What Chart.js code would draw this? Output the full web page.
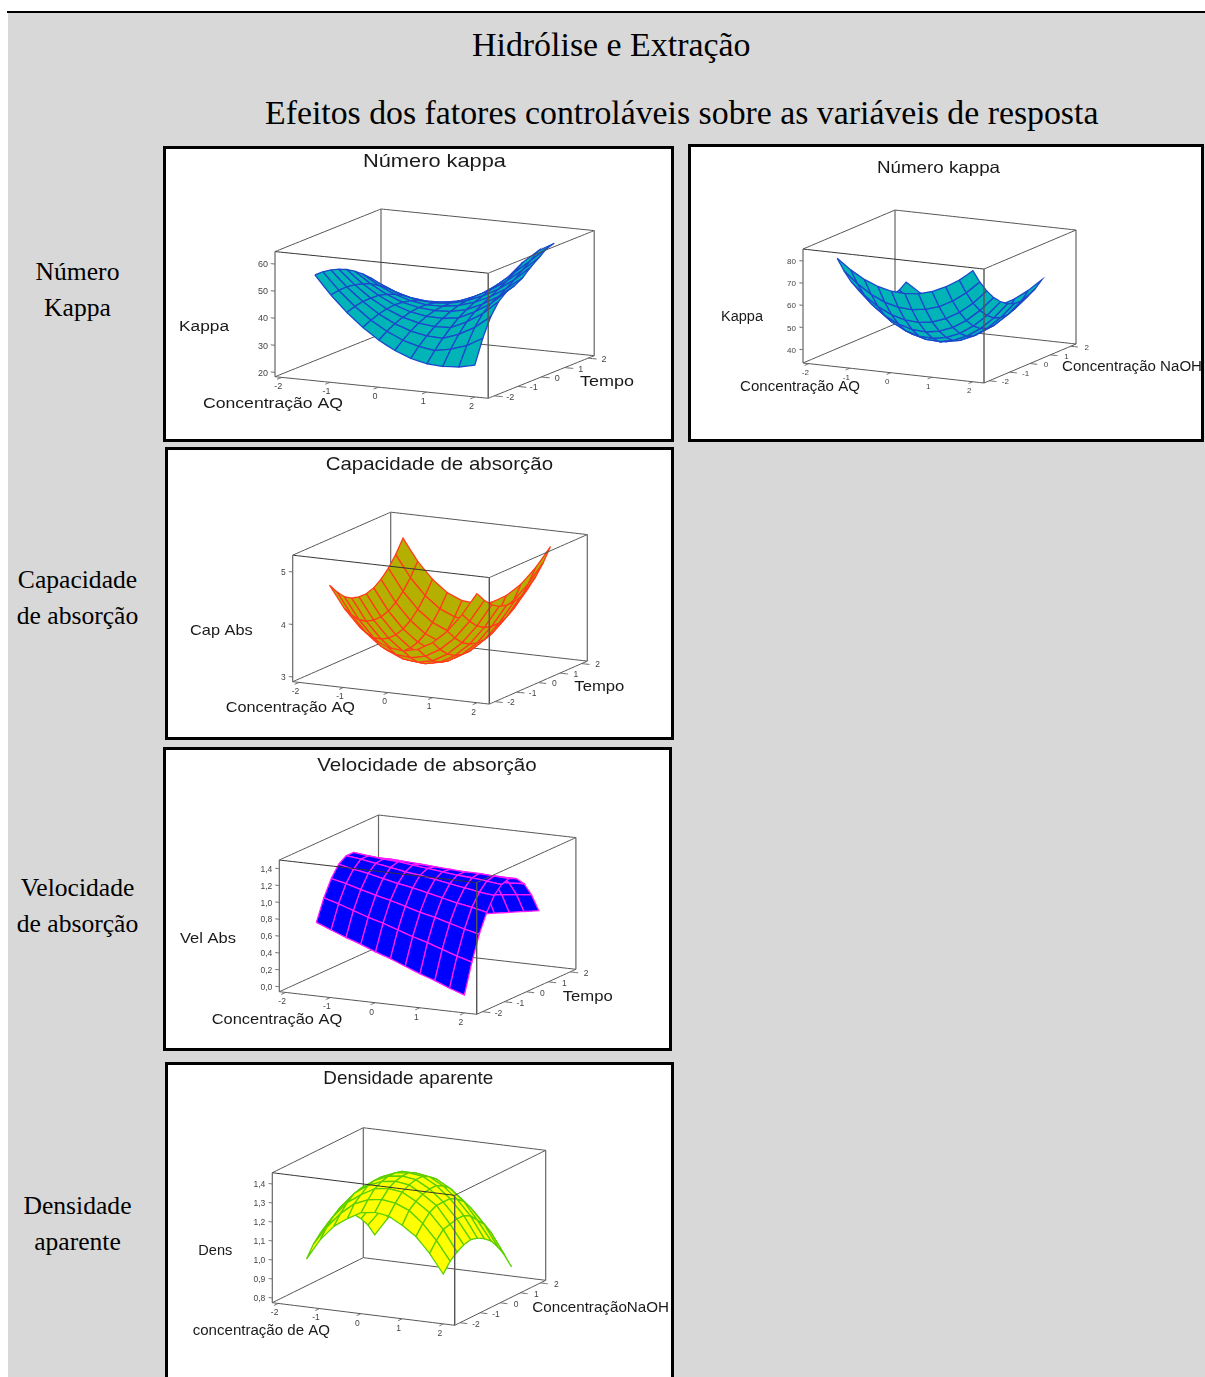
<!DOCTYPE html>
<html lang="pt"><head><meta charset="utf-8">
<script src="https://cdn.jsdelivr.net/npm/chart.js@4"></script>
<style>
html,body{margin:0;padding:0;background:#fff;width:1205px;height:1377px;overflow:hidden}
#sheet{position:absolute;left:8px;top:12px;width:1197px;height:1365px;background:#d8d8d8}
#rule{position:absolute;left:7px;top:11px;width:1198px;height:2px;background:#000}
.h{position:absolute;font-family:"Liberation Serif",serif;color:#000;white-space:nowrap}
.row{position:absolute;left:0;width:155px;text-align:center;font:25.6px/36px "Liberation Serif",serif;color:#000}
.panel{position:absolute;box-sizing:border-box;border:3px solid #000;background:#fff}
.panel canvas{display:block;filter:blur(0.35px)}
</style></head><body>
<div id="sheet"></div><div id="rule"></div>
<div class="h" style="left:472px;top:25px;font-size:33.9px;line-height:40px">Hidrólise e Extração</div>
<div class="h" style="left:265px;top:93px;font-size:33.8px;line-height:40px">Efeitos dos fatores controláveis sobre as variáveis de resposta</div>
<div class="row" style="top:254px">Número<br>Kappa</div>
<div class="row" style="top:562px">Capacidade<br>de absorção</div>
<div class="row" style="top:870px">Velocidade<br>de absorção</div>
<div class="row" style="top:1188px">Densidade<br>aparente</div>
<div id="panels"></div>
<script>
// Surface grid (axis-box units): 11 lines each way.
const gridX = [-1.5,-1.2,-0.9,-0.6,-0.3,0,0.3,0.6,0.9,1.2,1.5];
const gridY = [-1.5,-1.2,-0.9,-0.6,-0.3,0,0.3,0.6,0.9,1.2,1.5];
const axisTicks = [-2,-1,0,1,2];
const kappaTicks1 = [20,30,40,50,60];
const kappaTicks2 = [40,50,60,70,80];
const capTicks = [3,4,5];
const velTicks = [0,0.2,0.4,0.6,0.8,1.0,1.2,1.4];
const densTicks = [0.8,0.9,1.0,1.1,1.2,1.3,1.4];

// Rows run along gridY, columns along gridX.
const kappaVsTempo = [
[55.0,48.2,42.3,37.4,33.3,30.1,27.8,26.4,26.0,26.4,27.7],
[55.0,48.7,43.4,38.9,35.4,32.7,31.0,30.1,31.2,33.1,36.4],
[54.5,48.8,44.0,40.0,37.0,34.9,33.7,33.4,35.5,38.6,43.2],
[53.6,48.4,44.1,40.7,38.2,36.7,36.0,36.2,38.9,42.5,47.6],
[52.3,47.6,43.9,41.0,39.0,38.0,37.8,38.6,41.4,45.0,50.1],
[50.5,46.4,43.1,40.8,39.4,38.9,39.2,40.5,43.1,46.5,51.1],
[48.3,44.7,42.0,40.2,39.3,39.3,40.2,42.0,44.7,48.3,52.8],
[45.7,42.6,40.4,39.2,38.8,39.3,40.8,43.1,46.3,50.4,55.5],
[42.6,40.1,38.4,37.7,37.9,38.9,41.2,44.2,48.0,52.7,57.7],
[39.1,37.1,36.0,35.8,36.5,38.1,41.2,45.2,50.0,55.0,60.0],
[35.2,33.7,33.1,33.5,35.0,37.5,41.0,46.0,52.5,57.5,60.9]];
const kappaVsNaOH = [
[80.2,75.6,72.0,69.5,68.0,67.6,68.2,69.9,72.7,76.4,81.3],
[73.2,68.0,64.0,61.1,59.5,59.1,59.9,61.8,65.0,69.4,74.9],
[67.1,61.5,57.1,54.1,52.4,52.0,52.9,55.1,58.6,63.4,69.6],
[62.2,56.3,51.7,48.6,46.8,46.4,47.4,49.8,53.6,58.8,65.3],
[58.2,52.2,47.5,44.3,42.5,42.2,43.3,45.8,49.8,55.2,62.1],
[55.3,49.2,44.6,41.4,39.7,39.4,40.6,43.2,47.3,52.8,59.8],
[53.4,47.5,43.0,39.9,38.3,38.1,39.3,42.0,46.1,51.7,58.6],
[52.5,46.9,42.6,39.7,38.2,38.1,39.4,42.1,46.1,51.6,58.4],
[52.8,47.5,43.6,41.0,39.7,39.7,41.0,43.6,47.5,52.8,59.3],
[53.9,49.3,45.8,43.5,42.5,42.6,43.9,46.4,50.2,55.0,61.2],
[56.2,52.2,49.4,47.5,46.7,47.0,48.3,50.7,54.1,58.6,64.1]];
const capAbs = [
[4.70,4.29,3.98,3.76,3.64,3.61,3.67,3.83,4.08,4.43,4.86],
[4.51,4.10,3.79,3.57,3.45,3.42,3.48,3.64,3.89,4.24,4.67],
[4.36,3.95,3.64,3.42,3.30,3.27,3.33,3.49,3.74,4.09,4.52],
[4.27,3.86,3.55,3.33,3.21,3.18,3.24,3.40,3.65,4.00,4.43],
[4.23,3.82,3.51,3.29,3.17,3.14,3.20,3.36,3.61,3.96,4.39],
[4.23,3.82,3.51,3.29,3.17,3.14,3.20,3.36,3.61,3.96,4.39],
[4.28,3.87,3.56,3.34,3.22,3.19,3.25,3.41,3.66,4.01,4.44],
[4.38,3.97,3.66,3.44,3.32,3.29,3.35,3.51,3.76,4.11,4.54],
[4.53,4.12,3.81,3.59,3.47,3.44,3.50,3.66,3.91,4.26,4.69],
[4.73,4.32,4.01,3.79,3.67,3.64,3.70,3.86,4.11,4.46,4.89],
[4.98,4.57,4.26,4.04,3.92,3.89,3.95,4.11,4.36,4.71,5.14]];
const velAbs = [
[0.73,0.66,0.59,0.53,0.46,0.40,0.33,0.26,0.20,0.13,0.07],
[0.98,0.93,0.87,0.81,0.76,0.70,0.64,0.59,0.53,0.47,0.42],
[1.17,1.13,1.08,1.03,0.99,0.94,0.89,0.85,0.80,0.75,0.71],
[1.30,1.26,1.23,1.19,1.15,1.12,1.08,1.04,1.00,0.97,0.93],
[1.36,1.34,1.31,1.28,1.25,1.23,1.20,1.17,1.14,1.11,1.09],
[1.36,1.34,1.32,1.31,1.29,1.27,1.25,1.23,1.22,1.20,1.18],
[1.29,1.28,1.28,1.27,1.26,1.25,1.24,1.23,1.23,1.22,1.21],
[1.16,1.16,1.16,1.16,1.17,1.17,1.17,1.17,1.17,1.17,1.17],
[0.96,0.97,0.98,1.00,1.01,1.02,1.03,1.04,1.05,1.06,1.07],
[0.70,0.72,0.74,0.76,0.78,0.80,0.82,0.84,0.86,0.88,0.90],
[0.37,0.40,0.43,0.46,0.49,0.52,0.55,0.58,0.61,0.64,0.67]];
const densAparente = [
[0.99,1.10,1.18,1.23,1.27,1.28,1.27,1.23,1.18,1.10,1.00],
[1.05,1.15,1.23,1.29,1.32,1.33,1.32,1.29,1.23,1.15,1.05],
[1.09,1.19,1.27,1.32,1.36,1.37,1.36,1.32,1.27,1.19,1.08],
[1.12,1.22,1.30,1.35,1.38,1.39,1.38,1.34,1.29,1.20,1.10],
[1.14,1.23,1.31,1.36,1.39,1.40,1.39,1.35,1.29,1.21,1.11],
[1.14,1.24,1.31,1.36,1.39,1.40,1.39,1.35,1.29,1.21,1.10],
[1.13,1.22,1.30,1.35,1.38,1.38,1.37,1.33,1.27,1.19,1.08],
[1.10,1.20,1.27,1.32,1.35,1.35,1.34,1.30,1.24,1.15,1.05],
[1.06,1.16,1.23,1.28,1.31,1.31,1.29,1.25,1.19,1.11,1.00],
[1.01,1.10,1.18,1.22,1.25,1.25,1.24,1.19,1.13,1.05,0.94],
[0.94,1.04,1.11,1.16,1.18,1.18,1.17,1.12,1.06,0.97,0.86]];

// Panel frames, view geometry, styling and texts.
const panels = [
 {rect:[163,146,511,296], o:[275,376.7], ex:[53.3,5.4], ey:[26.5,-10.65], k:2.708, zb:18.4, zt:64.6,
  z:kappaVsTempo, zTicks:kappaTicks1, dec:0, fill:'#00b4b8', line:'#1c48cc', tickSize:9,
  texts:[['Número kappa',363,506,160,18.5],['Kappa',179,229,325,15.5],['Concentração AQ',203,343,402,15.5],['Tempo',580,634,380,15.5]]},
 {rect:[688,144,516,298], o:[803,363], ex:[45.25,5], ey:[23,-9.75], k:2.217, zb:34, zt:85.4,
  z:kappaVsNaOH, zTicks:kappaTicks2, dec:0, fill:'#00b4b8', line:'#1c48cc', tickSize:8,
  texts:[['Número kappa',877,1000,167,16.5],['Kappa',721,763,316,14],['Concentração AQ',740,860,386,14],['Concentração NaOH',1062,1202,366,14]]},
 {rect:[165,447,509,293], o:[292.7,681.7], ex:[49.15,5.6], ey:[24.5,-10.75], k:52.5, zb:2.91, zt:5.32,
  z:capAbs, zTicks:capTicks, dec:0, fill:'#b5b000', line:'#ff3d1a', tickSize:8.5,
  texts:[['Capacidade de absorção',325.7,553,463,18.5],['Cap Abs',190,252.7,629,15],['Concentração AQ',225.7,355,706.7,15],['Tempo',574.3,624.3,685,15]]},
 {rect:[163,747,509,304], o:[279.3,991.7], ex:[49.35,5.65], ey:[24.8,-11.25], k:84.3, zb:-0.059, zt:1.503,
  z:velAbs, zTicks:velTicks, dec:1, fill:'#0000ff', line:'#ff1aff', tickSize:8.5,
  texts:[['Velocidade de absorção',317.3,536.7,764,18.5],['Vel Abs',180,236,937.7,15],['Concentração AQ',211.7,342.3,1018.3,15],['Tempo',562.7,612.7,995,15]]},
 {rect:[165,1062,509,340], o:[272.3,1302.7], ex:[45.6,5.65], ey:[22.75,-11.25], k:190, zb:0.775, zt:1.459,
  z:densAparente, zTicks:densTicks, dec:1, fill:'#ffff00', line:'#5ccf00', tickSize:8.5,
  texts:[['Densidade aparente',323.3,493.3,1077.7,18.5],['Dens',198.3,232.3,1249.7,15],['concentração de AQ',192.7,330,1329.3,15],['ConcentraçãoNaOH',532.3,669,1306.3,15]]}
];

const X_TICK = t => t*0.906-0.06, Y_TICK = t => t*0.885;
const host = document.getElementById('panels');
const TEXT_DY = 1.5;

panels.forEach(p => {
  const [L,T,W,H] = p.rect, B = 3;
  const div = document.createElement('div');
  div.className = 'panel';
  div.style.cssText = `left:${L}px;top:${T}px;width:${W}px;height:${H}px`;
  const cv = document.createElement('canvas');
  cv.width = W-2*B; cv.height = H-2*B;
  div.appendChild(cv); host.appendChild(div);

  const left = L+B, top = T+B;
  const proj = (x,y,z) => ({
    x: p.o[0]+(x+2)*p.ex[0]+(y+2)*p.ey[0],
    y: p.o[1]+(x+2)*p.ex[1]+(y+2)*p.ey[1]-(z-p.zb)*p.k
  });
  // A minute tension keeps Chart.js off its x-merging fast path, which distorts tiny closed quads.
  const lineDs = (pts,color,width) => ({data:pts,showLine:true,fill:false,pointRadius:0,tension:0.0001,borderColor:color,borderWidth:width});
  const edge = (a,b,color='#555',w=1) => lineDs([proj(...a),proj(...b)],color,w);
  const zb=p.zb, zt=p.zt;
  const ds = [];
  ds.push(edge([-2,2,zb],[-2,2,zt],'#666',1.2), edge([-2,-2,zb],[-2,2,zb]), edge([-2,2,zb],[2,2,zb]));
  for (let j=gridY.length-2;j>=0;j--) for (let i=0;i<gridX.length-1;i++) {
    const c = [[i,j],[i+1,j],[i+1,j+1],[i,j+1],[i,j]];
    ds.push({data:c.map(([a,b])=>proj(gridX[a],gridY[b],p.z[b][a])),showLine:true,fill:'shape',
      backgroundColor:p.fill,borderColor:p.line,borderWidth:1.3,pointRadius:0,tension:0.0001});
  }
  ds.push(edge([-2,-2,zt],[-2,2,zt]), edge([-2,2,zt],[2,2,zt]), edge([-2,-2,zt],[2,-2,zt],'#333'), edge([2,-2,zt],[2,2,zt]),
          edge([-2,-2,zb],[-2,-2,zt],'#666',1.2), edge([2,-2,zb],[2,-2,zt],'#555',1.4), edge([2,2,zb],[2,2,zt],'#666',1.2),
          edge([-2,-2,zb],[2,-2,zb]), edge([2,-2,zb],[2,2,zb]));
  axisTicks.forEach(t => {
    ds.push(edge([X_TICK(t),-2,zb],[X_TICK(t),-2.18,zb],'#666',1));
    ds.push(edge([2,Y_TICK(t),zb],[2.16,Y_TICK(t),zb],'#666',1));
  });
  p.zTicks.forEach(t => ds.push(edge([-2,-2,t],[-2.08,-2,t],'#666',1)));
  ds.forEach((d,i)=>{d.order=-i;});

  const textPlugin = {id:'panelText',afterDraw(chart){
    const {ctx,scales:{x:sx,y:sy}} = chart;
    const put=(txt,px,py,size,color,align)=>{
      ctx.save();ctx.font=`${size}px "Liberation Sans",Arial,sans-serif`;ctx.fillStyle=color;
      ctx.textBaseline='middle';ctx.textAlign=align;
      ctx.fillText(txt,sx.getPixelForValue(px),sy.getPixelForValue(py));ctx.restore();
    };
    axisTicks.forEach(t=>{
      const a=proj(X_TICK(t),-2,zb); put(String(t),a.x-3.5,a.y+9.5,p.tickSize,'#444','center');
      const b=proj(2,Y_TICK(t),zb); put(String(t),b.x+16,b.y+1.5,p.tickSize,'#444','center');
    });
    p.zTicks.forEach(t=>{
      const a=proj(-2,-2,t); put(t.toFixed(p.dec).replace('.',','),a.x-7,a.y+0.8,p.tickSize,'#444','right');
    });
    p.texts.forEach(([s,x0,x1,y,size])=>{
      ctx.save();ctx.font=`${size}px "Liberation Sans",Arial,sans-serif`;ctx.fillStyle='#1a1a1a';
      ctx.textBaseline='middle';ctx.textAlign='left';
      const sc=(x1-x0)/ctx.measureText(s).width;
      ctx.translate(sx.getPixelForValue(x0),sy.getPixelForValue(y+TEXT_DY));ctx.scale(sc,1);
      ctx.fillText(s,0,0);ctx.restore();
    });
  }};

  new Chart(cv,{type:'scatter',data:{datasets:ds},plugins:[textPlugin],options:{
    responsive:false,animation:false,events:[],
    layout:{padding:0},
    plugins:{legend:{display:false},tooltip:{enabled:false},title:{display:false}},
    scales:{
      x:{type:'linear',display:false,min:left,max:left+W-2*B},
      y:{type:'linear',display:false,reverse:true,min:top,max:top+H-2*B}
    }}});
});
</script>
</body></html>
